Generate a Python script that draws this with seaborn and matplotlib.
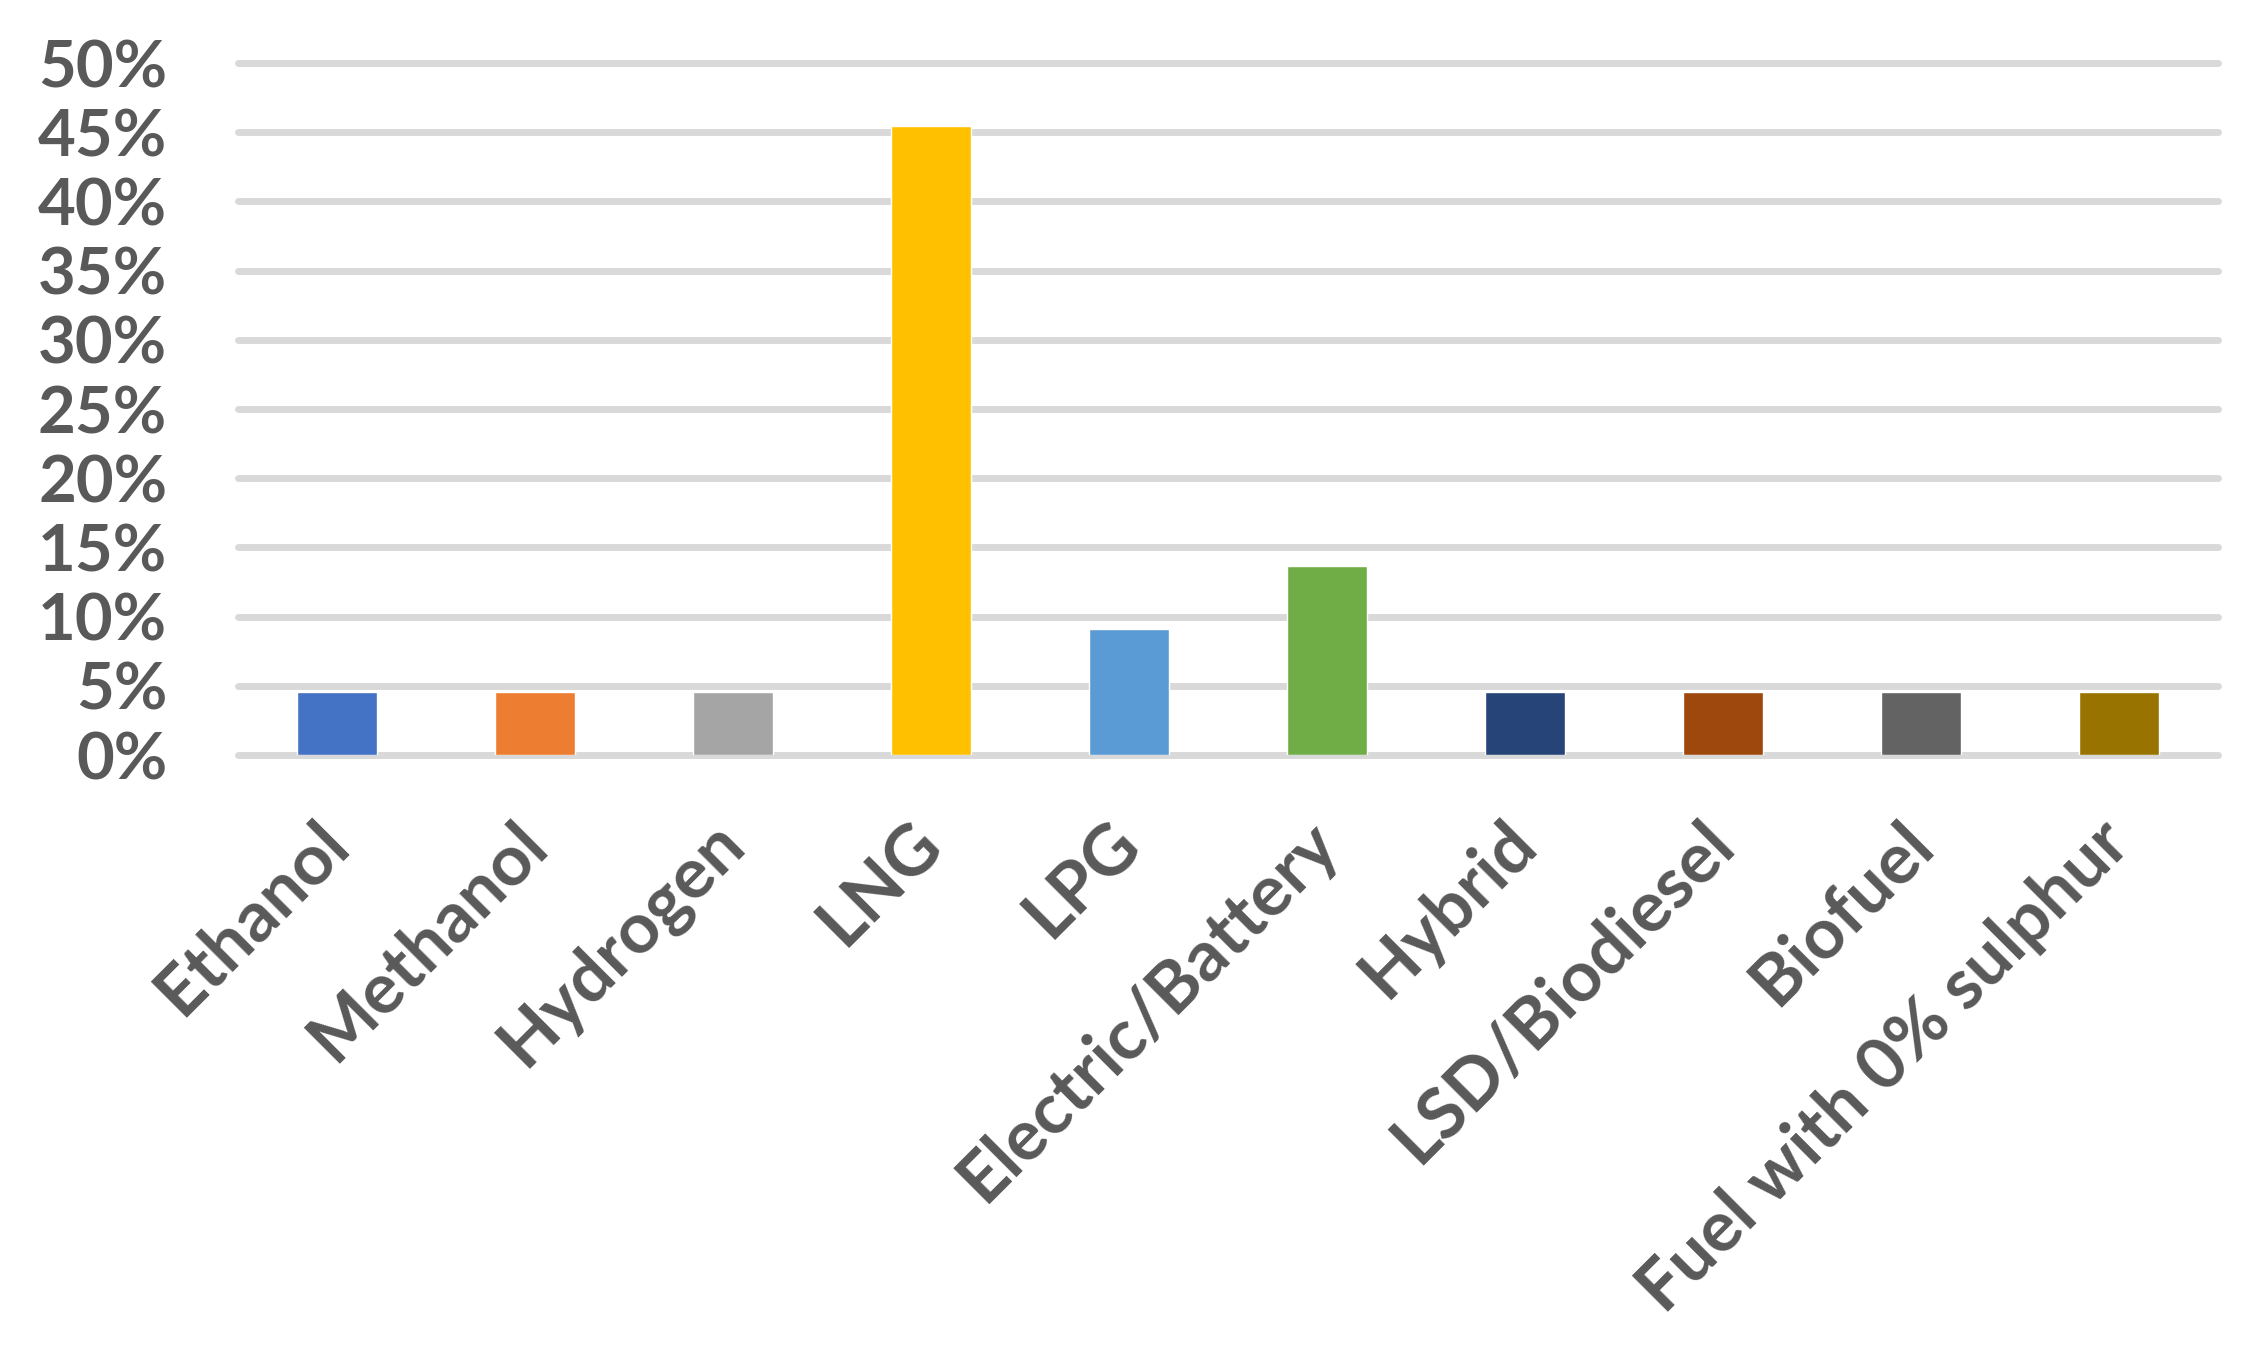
import matplotlib
matplotlib.use("Agg")
import matplotlib.pyplot as plt
from matplotlib.ticker import PercentFormatter
import seaborn as sns
import pandas as pd

# Share of responses per alternative fuel (in %)
fuels = ["Ethanol", "Methanol", "Hydrogen", "LNG", "LPG", "Electric/Battery",
         "Hybrid", "LSD/Biodiesel", "Biofuel", "Fuel with 0% sulphur"]
shares = [4.55, 4.55, 4.55, 45.45, 9.09, 13.64, 4.55, 4.55, 4.55, 4.55]
colors = ["#4472C4", "#ED7D31", "#A5A5A5", "#FFC000", "#5B9BD5",
          "#70AD47", "#264478", "#9E480E", "#636363", "#997300"]
yticks = [0, 5, 10, 15, 20, 25, 30, 35, 40, 45, 50]

df = pd.DataFrame({"fuel": fuels, "share": shares})

sns.set_style("white")
plt.rcParams["font.family"] = ["Lato", "DejaVu Sans"]
plt.rcParams["font.weight"] = "bold"

txt = "#595959"

fig = plt.figure(figsize=(22.62, 13.53), dpi=100)
ax = fig.add_axes([238 / 2262, 1 - 755 / 1353, 1980 / 2262, 692 / 1353])

sns.barplot(data=df, x="fuel", y="share", hue="fuel", palette=colors,
            width=0.4, legend=False, saturation=1, ax=ax)

ax.set_ylim(0, 50)
ax.set_yticks(yticks)
ax.yaxis.set_major_formatter(PercentFormatter(100, decimals=0))
ax.set_axisbelow(True)
ax.grid(axis="y", color="#D9D9D9", linewidth=5)
ax.grid(axis="x", visible=False)
for gl in ax.get_ygridlines():
    gl.set_clip_on(False)
sns.despine(ax=ax, left=True, bottom=True)

ax.set_xlabel("")
ax.set_ylabel("")
ax.tick_params(axis="y", length=0, pad=51, labelsize=47, labelcolor=txt)
ax.tick_params(axis="x", length=0, pad=56, labelsize=51, labelcolor=txt)
for lab in ax.get_xticklabels():
    lab.set_rotation(45)
    lab.set_ha("right")
    lab.set_va("center")
    lab.set_rotation_mode("anchor")
    lab.set_fontweight("bold")
for lab in ax.get_yticklabels():
    lab.set_fontweight("bold")

fig.savefig("out.png", dpi=100, facecolor="white")
